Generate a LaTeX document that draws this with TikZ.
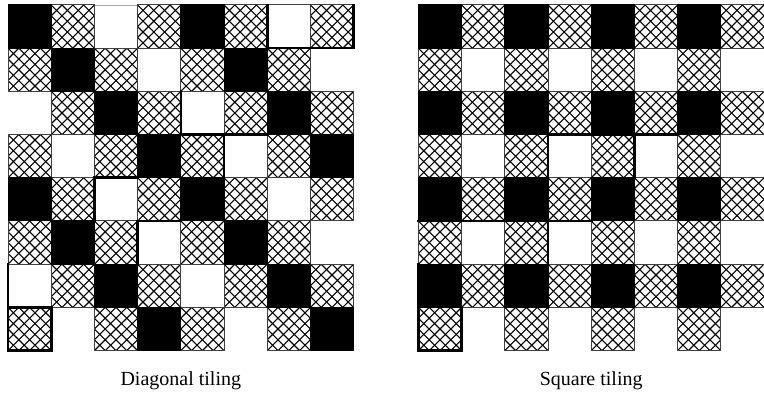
\documentclass[tikz,border=0pt]{standalone}
\usepackage{fontspec}
\setmainfont{Liberation Serif}

% 0 = empty, 1 = black, 2 = cross-hatched, 3 = white
\def\diaggrid{{1,2,0,2,1,2,3,2},{2,1,2,3,2,1,2,0},{0,2,1,2,3,2,1,2},{2,3,2,1,2,3,2,1},
  {1,2,3,2,1,2,3,2},{2,1,2,3,2,1,2,0},{3,2,1,2,3,2,1,2},{2,0,2,1,2,0,2,1}}
\def\squaregrid{{1,2,1,2,1,2,1,2},{2,3,2,3,2,3,2,3},{1,2,1,2,1,2,1,2},{2,3,2,3,2,3,2,3},
  {1,2,1,2,1,2,1,2},{2,3,2,3,2,3,2,3},{1,2,1,2,1,2,1,2},{2,0,2,0,2,0,2,0}}

\tikzset{
  hatch/.pic={
    \fill[white] (0,0) rectangle (1,1);
    \begin{scope}
      \clip (0,0) rectangle (1,1);
      \foreach \d in {-0.75,-0.5,...,0.8} {
        \draw[hatchline] (\d,0) -- ++(1,1);
        \draw[hatchline] (\d,1) -- ++(1,-1);
      }
    \end{scope}
    \draw[cellline] (0,0) rectangle (1,1);
  }
}

\begin{document}
\begin{tikzpicture}[font=\fontsize{20}{24}\selectfont,
  cellline/.style={draw=black!75, line width=1pt},
  cellblack/.style={fill=black, draw=black, line width=1pt},
  hatchline/.style={black, line width=1.1pt},
  topline/.style={gray!70, line width=0.8pt},
  tileedge/.style={black, line width=2.6pt, line cap=rect}]
  \useasboundingbox (0,0) rectangle (764pt,397pt);

  % Diagonal tiling
  \begin{scope}[shift={(8pt,392pt)}, x=43.2pt, y=-43.2pt]
    \draw[topline] (0,0) -- (8,0);
    \foreach \row [count=\r from 0] in \diaggrid {
      \foreach \k [count=\c from 0] in \row {
        \ifnum\k=2 \pic at (\c,\r) {hatch}; \fi
        \ifnum\k=3 \filldraw[cellline, fill=white] (\c,\r) rectangle ++(1,1); \fi
      }
    }
    \foreach \row [count=\r from 0] in \diaggrid {
      \foreach \k [count=\c from 0] in \row {
        \ifnum\k=1 \filldraw[cellblack] (\c,\r) rectangle ++(1,1); \fi
      }
    }
    \draw[tileedge] (6,0) -- (6,1) -- (8,1) -- (8,0);
    \draw[tileedge] (4,2) -- (4,3) -- (6,3);
    \draw[tileedge] (5,3) -- (5,4);
    \draw[tileedge] (2,5) -- (2,4) -- (3,4);
    \draw[tileedge] (3,6) -- (3,5) -- (4,5);
    \draw[tileedge] (0,6) -- (0,8) -- (1,8) -- (1,7) -- (0,7);
    \node[anchor=base] (lbldiag) at (4,8.8) {Diagonal tiling};
  \end{scope}

  % Square tiling
  \begin{scope}[shift={(418.4pt,392pt)}, x=43.2pt, y=-43.2pt]
    \draw[topline] (0,0) -- (8,0);
    \foreach \row [count=\r from 0] in \squaregrid {
      \foreach \k [count=\c from 0] in \row {
        \ifnum\k=2 \pic at (\c,\r) {hatch}; \fi
        \ifnum\k=3 \filldraw[cellline, fill=white] (\c,\r) rectangle ++(1,1); \fi
      }
    }
    \foreach \row [count=\r from 0] in \squaregrid {
      \foreach \k [count=\c from 0] in \row {
        \ifnum\k=1 \filldraw[cellblack] (\c,\r) rectangle ++(1,1); \fi
      }
    }
    \draw[tileedge] (0,6) -- (0,8) -- (1,8) -- (1,7);
    \draw[tileedge] (0,5) -- (4,5);
    \draw[tileedge] (3,3) -- (6,3);
    \draw[tileedge] (3,3) -- (3,7);
    \draw[tileedge] (5,3) -- (5,4);
    \node[anchor=base] (lblsquare) at (4,8.8) {Square tiling};
  \end{scope}
\end{tikzpicture}
\end{document}
